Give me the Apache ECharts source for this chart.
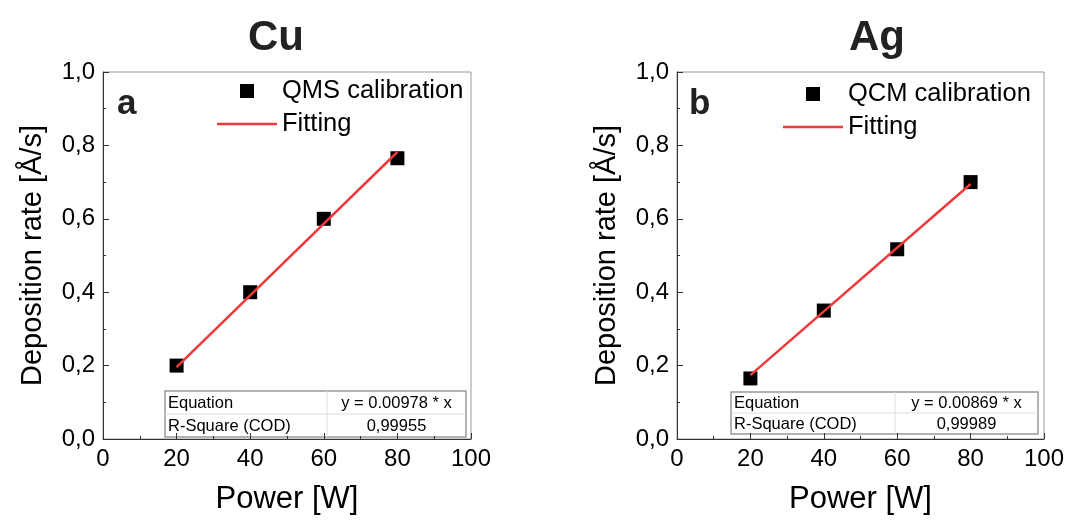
<!DOCTYPE html>
<html lang="en">
<head>
<meta charset="UTF-8">
<title>Deposition rate calibration</title>
<script src="https://cdn.jsdelivr.net/npm/echarts@6/dist/echarts.min.js"></script>
<style>
  html, body { margin: 0; padding: 0; background: #fff; }
  #main { width: 1069px; height: 521px; }
</style>
</head>
<body>
<div id="main"></div>
<script type="text/javascript">
// data
var powerW = [20, 40, 60, 80];
var cuRate = [0.200, 0.400, 0.600, 0.765];
var agRate = [0.165, 0.350, 0.517, 0.700];
var fitX = [20, 80];
var cuFitY = [0.196, 0.782];
var agFitY = [0.174, 0.695];
var xTicks = [0, 20, 40, 60, 80, 100];
var yTicks = [0, 0.2, 0.4, 0.6, 0.8, 1.0];
var panelTitles = ['Cu', 'Ag'];
var panelLetters = ['a', 'b'];
var pointNames = ['QMS calibration', 'QCM calibration'];
var tableRows = [
  [['Equation', 'y = 0.00978 * x'], ['R-Square (COD)', '0,99955']],
  [['Equation', 'y = 0.00869 * x'], ['R-Square (COD)', '0,99989']]
];

var FONT = '"Liberation Sans", Arial, sans-serif';
var AXIS = '#333';
var RED = '#ee3a3a';
var SQUARE = 'path://M0,0h10v10h-10z';
var LINEICON = 'path://M0,0h60v2.5h-60z';

function pairs(xs, ys) {
  return xs.map(function (x, i) { return [x, ys[i]]; });
}

function xAxisFor(i) {
  return {
    gridIndex: i, type: 'value', min: xTicks[0], max: xTicks[xTicks.length - 1], interval: 20,
    name: 'Power [W]', nameLocation: 'middle', nameGap: 45,
    nameTextStyle: { fontFamily: FONT, fontSize: 31, color: '#000' },
    axisLine: { show: true, onZero: false, lineStyle: { color: AXIS, width: 1 } },
    axisTick: { show: true, inside: true, length: 6, lineStyle: { color: AXIS } },
    minorTick: { show: true, splitNumber: 2, length: 3, lineStyle: { color: AXIS } },
    axisLabel: { fontFamily: FONT, fontSize: 24, color: '#000', margin: 8 },
    splitLine: { show: false }
  };
}

function yAxisFor(i) {
  return {
    gridIndex: i, type: 'value', min: yTicks[0], max: yTicks[yTicks.length - 1], interval: 0.2,
    name: 'Deposition rate [Å/s]', nameLocation: 'middle', nameGap: 56,
    nameTextStyle: { fontFamily: FONT, fontSize: 29, color: '#000' },
    axisLine: { show: true, onZero: false, lineStyle: { color: AXIS, width: 1 } },
    axisTick: { show: true, inside: true, length: 6, lineStyle: { color: AXIS } },
    minorTick: { show: true, splitNumber: 2, length: 3, lineStyle: { color: AXIS } },
    axisLabel: {
      fontFamily: FONT, fontSize: 24, color: '#000', margin: 8,
      formatter: function (v) { return v.toFixed(1).replace('.', ','); }
    },
    splitLine: { show: false }
  };
}

// fit-result table drawn as graphic
function table(left, top, w, h, split, rows) {
  var els = [
    { type: 'rect', shape: { x: left, y: top, width: w, height: h },
      style: { fill: '#fff', stroke: '#999', lineWidth: 1.5 } },
    { type: 'line', shape: { x1: split, y1: top, x2: split, y2: top + h },
      style: { stroke: '#ddd', lineWidth: 1 } },
    { type: 'line', shape: { x1: left, y1: top + h / 2, x2: left + w, y2: top + h / 2 },
      style: { stroke: '#ddd', lineWidth: 1 } }
  ];
  rows.forEach(function (r, k) {
    var cy = top + h / 4 + k * h / 2 + 1;
    els.push({ type: 'text', x: left + 3, y: cy,
      style: { text: r[0], font: '16.5px ' + FONT, fill: '#000', verticalAlign: 'middle' } });
    els.push({ type: 'text', x: (split + left + w) / 2, y: cy,
      style: { text: r[1], font: '16.5px ' + FONT, fill: '#000', align: 'center', verticalAlign: 'middle' } });
  });
  return els;
}

function legendFor(left, top, pointName, lineName) {
  return {
    orient: 'vertical', left: left, top: top, padding: 0,
    itemWidth: 60, itemHeight: 14, itemGap: 7,
    symbolKeepAspect: true,
    data: [{ name: pointName, icon: SQUARE }, { name: lineName, icon: LINEICON }],
    formatter: function (n) { return n.trim(); },
    textStyle: { fontFamily: FONT, fontSize: 25.5, color: '#000' }
  };
}

var myChart = echarts.init(document.getElementById('main'));
var option = {
  animation: false,
  backgroundColor: '#fff',
  title: [
    { text: panelTitles[0], left: 271, top: 12, textAlign: 'center',
      textStyle: { fontFamily: FONT, fontSize: 42, fontWeight: 'bold', color: '#222' } },
    { text: panelTitles[1], left: 872, top: 12, textAlign: 'center',
      textStyle: { fontFamily: FONT, fontSize: 42, fontWeight: 'bold', color: '#222' } },
    { text: panelLetters[0], left: 112, top: 82,
      textStyle: { fontFamily: FONT, fontSize: 35, fontWeight: 'bold', color: '#222' } },
    { text: panelLetters[1], left: 684, top: 82,
      textStyle: { fontFamily: FONT, fontSize: 35, fontWeight: 'bold', color: '#222' } }
  ],
  legend: [
    legendFor(217, 78, pointNames[0], 'Fitting'),
    legendFor(783, 81, pointNames[1], 'Fitting ')
  ],
  grid: [
    { left: 103, right: 598, top: 72, bottom: 82, show: true, borderColor: '#999', borderWidth: 1 },
    { left: 677, right: 25, top: 72, bottom: 82, show: true, borderColor: '#999', borderWidth: 1 }
  ],
  xAxis: [xAxisFor(0), xAxisFor(1)],
  yAxis: [yAxisFor(0), yAxisFor(1)],
  series: [
    { name: 'Fitting', type: 'line', xAxisIndex: 0, yAxisIndex: 0, symbol: 'none',
      lineStyle: { color: RED, width: 2.5 }, itemStyle: { color: RED },
      data: pairs(fitX, cuFitY), z: 3 },
    { name: pointNames[0], type: 'scatter', xAxisIndex: 0, yAxisIndex: 0, symbol: 'rect', symbolSize: 14,
      itemStyle: { color: '#000', opacity: 1 }, data: pairs(powerW, cuRate), z: 2 },
    { name: 'Fitting ', type: 'line', xAxisIndex: 1, yAxisIndex: 1, symbol: 'none',
      lineStyle: { color: RED, width: 2.5 }, itemStyle: { color: RED },
      data: pairs(fitX, agFitY), z: 3 },
    { name: pointNames[1], type: 'scatter', xAxisIndex: 1, yAxisIndex: 1, symbol: 'rect', symbolSize: 14,
      itemStyle: { color: '#000', opacity: 1 }, data: pairs(powerW, agRate), z: 2 }
  ],
  graphic: table(165, 391, 301, 46, 327, tableRows[0])
    .concat(table(731, 392, 307, 42, 895, tableRows[1]))
};
myChart.setOption(option);
</script>
</body>
</html>
